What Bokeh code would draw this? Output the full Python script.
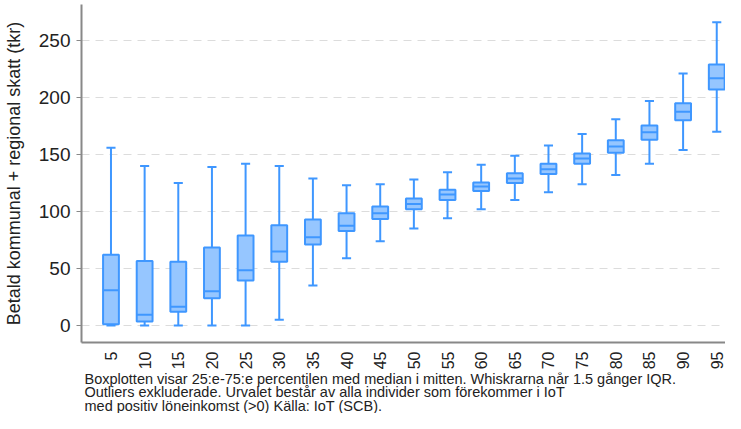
from bokeh.plotting import figure
from bokeh.models import Range1d, FixedTicker, ColumnDataSource
from bokeh.layouts import column
from bokeh.core.properties import value
from bokeh.embed import file_html
from bokeh.resources import INLINE
import math

pct = [5, 10, 15, 20, 25, 30, 35, 40, 45, 50, 55, 60, 65, 70, 75, 80, 85, 90, 95]
whisk_low = [0, 0, 0, 0, 0, 5, 35, 59, 74, 85, 94, 102, 110, 117, 124, 132, 142, 154, 170]
q1 = [1, 3.5, 12, 24, 39.5, 56, 71, 83, 93.5, 102, 110, 118, 125, 133, 142, 151.5, 163, 180, 207]
med = [31, 9.5, 16.5, 30, 48.5, 65, 77.5, 87.5, 98.5, 106.5, 115, 122, 129, 137, 146.5, 157, 169.5, 187.5, 217]
q3 = [62, 56.5, 56, 68.5, 79, 88, 93, 98.5, 104.5, 111.5, 119, 125.5, 133.5, 142, 151, 162.5, 175.5, 195, 229]
whisk_high = [156, 140, 125, 139, 142, 140, 129, 123, 124, 128, 134.5, 141, 149, 158, 168, 181, 197, 221, 266]
y_ticks = [0, 50, 100, 150, 200, 250]
y_label = "Betald kommunal + regional skatt (tkr)"
notes = [
    "Boxplotten visar 25:e-75:e percentilen med median i mitten. Whiskrarna når 1.5 gånger IQR.",
    "Outliers exkluderade. Urvalet består av alla individer som förekommer i IoT",
    "med positiv löneinkomst (>0) Källa: IoT (SCB).",
]

FONT = "Liberation Sans"
EDGE = "#3f97ff"
FILL = "#96c6ff"
BOX_W = 2.35
CAP_W = 1.35
W = 725
MAIN_H = 372
NOTE_H = 41
LEFT = 80

src = ColumnDataSource(dict(
    x=pct, lo=whisk_low, q1=q1, med=med, q3=q3, hi=whisk_high,
    bl=[v - BOX_W / 2 for v in pct], br=[v + BOX_W / 2 for v in pct],
    cl=[v - CAP_W / 2 for v in pct], cr=[v + CAP_W / 2 for v in pct],
))

p = figure(width=W, height=MAIN_H, output_backend="svg", toolbar_location=None,
           x_range=Range1d(0.62, 96.3), y_range=Range1d(-14.9, 281.6),
           min_border_left=LEFT, min_border_right=0, min_border_top=4, min_border_bottom=30)
p.outline_line_color = None
p.background_fill_color = "white"

# whiskers
p.segment(x0="x", y0="q3", x1="x", y1="hi", source=src, line_color=EDGE, line_width=2)
p.segment(x0="x", y0="lo", x1="x", y1="q1", source=src, line_color=EDGE, line_width=2)
p.segment(x0="cl", y0="hi", x1="cr", y1="hi", source=src, line_color=EDGE, line_width=2)
p.segment(x0="cl", y0="lo", x1="cr", y1="lo", source=src, line_color=EDGE, line_width=2)
# boxes
p.vbar(x="x", width=BOX_W, bottom="q1", top="q3", source=src,
       fill_color=FILL, line_color=EDGE, line_width=2)
p.segment(x0="bl", y0="med", x1="br", y1="med", source=src, line_color=EDGE, line_width=2)

# axes
p.xgrid.grid_line_color = None
p.ygrid.ticker = FixedTicker(ticks=y_ticks)
p.ygrid.grid_line_color = "#dcdcdc"
p.ygrid.grid_line_dash = "8 6"
p.ygrid.grid_line_width = 1

p.xaxis.ticker = FixedTicker(ticks=pct)
p.xaxis.major_label_orientation = math.pi / 2
p.xaxis.major_tick_line_color = None
p.xaxis.minor_tick_line_color = None
p.xaxis.major_tick_out = 0
p.xaxis.major_label_standoff = 9
p.xaxis.major_label_text_font = FONT
p.xaxis.major_label_text_font_size = "16px"
p.xaxis.major_label_text_color = "#222222"
p.xaxis.axis_line_color = "#888888"
p.xaxis.axis_line_width = 2

p.yaxis.ticker = FixedTicker(ticks=y_ticks)
p.yaxis.minor_tick_line_color = None
p.yaxis.major_tick_out = 5
p.yaxis.major_tick_in = 0
p.yaxis.major_tick_line_color = "#888888"
p.yaxis.major_label_standoff = 6
p.yaxis.major_label_text_font = FONT
p.yaxis.major_label_text_font_size = "19px"
p.yaxis.major_label_text_color = "#222222"
p.yaxis.axis_line_color = "#888888"
p.yaxis.axis_line_width = 2
p.yaxis.axis_label = y_label
p.yaxis.axis_label_text_font = FONT
p.yaxis.axis_label_text_font_size = "18px"
p.yaxis.axis_label_text_font_style = "normal"
p.yaxis.axis_label_text_color = "#222222"
p.yaxis.axis_label_standoff = 12

# footnote panel; its frame is aligned with the main frame (page x from LEFT to W)
n = figure(width=W, height=NOTE_H, output_backend="svg", toolbar_location=None,
           x_range=Range1d(LEFT, W), y_range=Range1d(0, NOTE_H),
           x_axis_type=None, y_axis_type=None,
           min_border_left=LEFT, min_border_right=0, min_border_top=0, min_border_bottom=0)
n.outline_line_color = None
n.grid.visible = False
note_src = ColumnDataSource(dict(
    x=[LEFT + 3] * len(notes),
    y=[NOTE_H - (6 + 13.5 * i) for i in range(len(notes))],
    t=notes,
))
n.text(x="x", y="y", text="t", source=note_src, text_font=value(FONT),
       text_font_size=value("14.5px"), text_color="#222222",
       text_baseline="middle", text_align="left")

layout = column(p, n, spacing=0)
open("out.html", "w").write(file_html(layout, INLINE))
